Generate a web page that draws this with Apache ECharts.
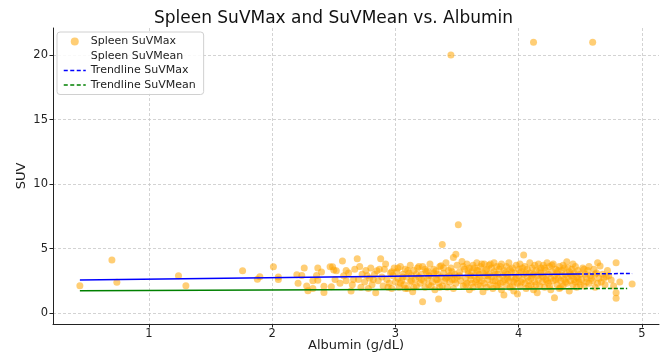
<!DOCTYPE html>
<html>
<head>
<meta charset="utf-8">
<script src="https://cdn.jsdelivr.net/npm/echarts@6/dist/echarts.min.js"></script>
<style>html,body{margin:0;padding:0;background:#fff}#c{width:667px;height:356px}</style>
</head>
<body>
<div id="c"></div>
<script>
const titleText = 'Spleen SuVMax and SuVMean vs. Albumin';
const xTicks = [1, 2, 3, 4, 5];
const yTicks = [0, 5, 10, 15, 20];

// Spleen SuVMax: [Albumin, SUV]
const spleenSuvMax = [
[0.44,2.12],[0.70,4.11],[0.74,2.38],[1.24,2.89],[1.30,2.12],[1.76,3.28],[1.88,2.61],[1.90,2.81],[2.01,3.59],[2.05,2.80],[2.05,2.60],
[2.20,2.97],[2.24,2.92],[2.21,2.30],[2.26,3.49],[2.28,2.09],[2.29,1.73],[2.33,1.91],[2.33,2.50],[2.37,3.49],[2.40,3.18],[2.36,2.92],
[2.37,2.55],[2.42,2.07],[2.42,1.60],[2.48,2.04],[2.49,3.59],[2.52,3.28],[2.51,2.60],[2.47,3.59],[2.50,3.33],
[2.55,2.3],[2.57,4.03],[2.58,2.9],[2.60,2.5],[2.62,3.1],[2.64,1.7],[2.65,2.2],[2.67,3.4],[2.69,4.2],[2.70,2.6],[2.72,2.0],[2.73,3.0],
[2.75,2.4],[2.76,3.3],[2.78,1.9],[2.79,2.7],[2.80,3.5],[2.81,2.2],[2.83,3.0],[2.84,1.57],[2.85,3.28],[2.86,2.5],[2.88,4.2],[2.89,2.8],
[2.90,2.1],[2.91,3.4],[2.92,3.8],[2.93,2.6],[2.95,2.3],[2.96,3.1],[2.97,1.9],[2.98,2.9],[2.99,3.5],[3.00,2.4],
[2.60,3.3],[2.66,2.6],[2.71,3.6],[2.77,2.9],[2.82,2.6],[2.87,3.4],[2.94,2.0],[2.97,3.2],
[3.01,3.2],[3.02,2.7],[3.03,2.0],[3.04,3.6],[3.05,2.5],[3.06,3.0],[3.07,2.2],[3.08,3.4],[3.09,2.8],[3.10,1.9],[3.11,3.1],[3.12,3.7],
[3.12,2.4],[3.13,2.9],[3.14,1.65],[3.15,3.3],[3.16,2.6],[3.17,2.1],[3.18,3.5],[3.19,2.8],[3.20,2.3],[3.21,3.0],[3.22,0.88],[3.22,3.6],
[3.23,2.5],[3.24,2.0],[3.25,3.2],[3.26,2.7],[3.26,3.28],[3.27,2.2],[3.28,3.8],[3.29,2.9],[3.30,2.4],[3.31,3.4],[3.32,1.8],[3.33,3.28],
[3.33,2.6],[3.34,3.0],[3.35,1.08],[3.35,2.3],[3.36,3.6],[3.37,3.67],[3.37,2.8],[3.38,5.32],[3.38,2.1],[3.39,3.1],[3.40,2.5],[3.41,3.9],
[3.41,2.7],[3.42,2.0],[3.43,3.3],[3.44,2.9],[3.44,2.4],[3.45,20.0],[3.45,3.5],[3.46,2.6],[3.47,4.3],[3.47,1.9],[3.48,3.0],[3.49,4.55],
[3.49,2.3],[3.50,3.7],[3.50,2.8],[3.51,6.85],[3.52,3.2],[3.53,2.5],[3.54,4.0],
[3.02,3.5],[3.04,2.3],[3.06,2.8],[3.08,1.9],[3.10,3.3],[3.13,2.5],[3.15,2.0],[3.17,3.0],[3.19,3.6],[3.21,2.6],[3.24,3.4],[3.27,2.9],
[3.29,2.1],[3.31,3.1],[3.34,2.6],[3.36,2.0],[3.39,3.5],[3.42,2.8],[3.46,3.2],[3.48,2.6],
[3.55,2.1],[3.56,3.4],[3.57,2.7],[3.58,3.8],[3.58,2.3],[3.59,3.0],[3.60,1.8],[3.60,3.5],[3.61,2.6],[3.62,3.2],[3.63,2.0],[3.63,3.7],
[3.64,2.9],[3.65,2.4],[3.66,3.3],[3.66,3.9],[3.67,2.2],[3.68,3.0],[3.68,2.7],[3.69,3.6],[3.70,2.5],[3.71,1.65],[3.71,3.1],[3.72,3.8],
[3.72,2.3],[3.73,2.9],[3.74,3.4],[3.74,2.0],[3.75,2.6],[3.76,3.7],[3.76,3.0],[3.77,2.2],[3.78,3.5],[3.78,2.8],[3.79,1.9],[3.80,3.2],
[3.80,3.9],[3.81,2.5],[3.82,3.6],[3.82,2.1],[3.83,3.0],[3.84,2.7],[3.84,3.4],[3.85,2.3],[3.86,3.8],[3.86,1.8],[3.87,2.9],[3.88,1.4],
[3.88,3.3],[3.89,2.6],[3.90,3.6],[3.90,2.2],[3.91,3.0],[3.92,2.5],[3.92,3.9],[3.93,2.0],[3.94,3.2],[3.94,2.8],[3.95,3.5],[3.96,2.4],
[3.96,1.7],[3.97,3.1],[3.98,3.7],[3.98,2.7],[3.99,1.47],[3.99,2.3],[4.00,3.4],
[3.52,2.9],[3.55,3.6],[3.57,2.2],[3.59,3.3],[3.61,2.9],[3.62,2.3],[3.64,3.5],[3.66,2.6],[3.67,3.3],[3.69,2.1],[3.70,3.8],[3.73,3.3],
[3.75,2.9],[3.77,3.8],[3.79,2.5],[3.81,3.0],[3.83,2.2],[3.85,3.6],[3.87,2.4],[3.89,3.1],[3.91,2.7],[3.93,3.4],[3.95,2.1],[3.97,2.6],
[4.00,2.9],[4.01,3.8],[4.01,2.1],[4.02,3.2],[4.03,2.6],[4.04,4.5],[4.04,3.0],[4.05,2.3],[4.05,3.6],[4.06,1.9],[4.07,2.8],[4.07,3.4],
[4.08,2.5],[4.09,3.9],[4.09,3.1],[4.10,2.2],[4.10,2.7],[4.11,3.5],[4.12,21.0],[4.12,1.8],[4.12,3.0],[4.13,3.7],[4.13,2.4],[4.14,3.3],
[4.15,1.57],[4.15,2.9],[4.16,3.8],[4.16,2.6],[4.17,2.1],[4.18,3.5],[4.18,3.1],[4.19,2.4],[4.20,3.7],[4.20,2.8],[4.21,2.0],[4.22,3.3],
[4.22,2.6],[4.23,3.9],[4.24,2.3],[4.24,3.0],[4.25,3.6],[4.26,1.8],[4.26,2.7],[4.27,3.2],[4.28,2.5],[4.28,3.8],[4.29,1.19],[4.29,2.9],
[4.30,3.4],[4.31,2.2],[4.31,3.1],[4.32,2.7],[4.33,3.6],[4.33,1.9],[4.34,2.5],[4.35,3.3],[4.35,2.9],[4.36,2.1],[4.37,3.5],[4.37,2.6],
[4.38,3.0],[4.39,3.98],[4.39,2.3],[4.40,2.8],[4.41,3.2],[4.41,1.7],[4.42,2.5],[4.43,3.4],[4.43,2.9],[4.44,2.2],[4.45,3.1],[4.45,2.6],
[4.46,3.6],[4.47,2.0],[4.47,2.8],[4.48,3.3],[4.49,2.4],[4.50,3.0],
[4.02,2.4],[4.03,3.5],[4.06,3.1],[4.08,2.1],[4.11,2.9],[4.14,2.2],[4.17,3.3],[4.19,2.9],[4.21,3.5],[4.23,2.5],[4.25,2.1],[4.27,3.7],
[4.30,2.6],[4.32,3.3],[4.34,2.0],[4.36,3.7],[4.38,2.4],[4.40,3.5],[4.42,3.0],[4.44,3.8],[4.46,2.4],[4.48,2.7],
[4.51,2.6],[4.52,3.5],[4.53,2.1],[4.54,3.0],[4.55,2.7],[4.56,3.3],[4.57,2.3],[4.58,2.9],[4.60,21.0],[4.60,2.5],[4.61,3.4],[4.62,2.0],
[4.63,3.1],[4.64,3.9],[4.65,2.7],[4.66,3.64],[4.67,2.4],[4.68,3.0],[4.70,2.2],[4.71,2.81],[4.72,3.3],[4.75,2.56],[4.77,2.1],[4.79,3.9],
[4.79,1.57],[4.79,1.14],[4.82,2.4],[4.92,2.25],
[4.50,2.2],[4.53,3.4],[4.55,2.4],[4.57,3.6],[4.59,2.7],[4.62,3.0],[4.64,2.3],[4.69,2.7],[4.73,2.9]
];
// Spleen SuVMean markers are not visible in the reference
const spleenSuvMean = [];

// Trendlines: solid part then dashed tail
const trendMaxSolid = [[0.44, 2.56], [4.48, 3.02]];
const trendMaxDashed = [[4.48, 3.02], [4.92, 3.07]];
const trendMeanSolid = [[0.44, 1.73], [4.48, 1.89]];
const trendMeanDashed = [[4.48, 1.89], [4.88, 1.91]];

const FONT = 'DejaVu Sans';
const chart = echarts.init(document.getElementById('c'), null, {renderer: 'canvas'});
const gridLine = {show: true, lineStyle: {color: '#c8c8c8', width: 0.8, type: [3, 2]}};
const noSym = {color: 'rgba(0,0,0,0)', borderWidth: 0, opacity: 0};
chart.setOption({
  animation: false,
  backgroundColor: '#fff',
  title: {
    text: titleText, left: 'center', top: 5,
    textStyle: {fontFamily: FONT, fontSize: 17, fontWeight: 'normal', color: '#111'}
  },
  grid: {left: 53, right: 8, top: 28, bottom: 32, containLabel: false, outerBoundsMode: 'none'},
  legend: {
    orient: 'vertical', left: 57, top: 32,
    padding: [4, 8, 4, 6], itemGap: 3.5, itemWidth: 22, itemHeight: 8,
    borderColor: '#d0d0d0', borderWidth: 1, borderRadius: 3,
    backgroundColor: 'rgba(255,255,255,0.85)',
    textStyle: {fontFamily: FONT, fontSize: 11, color: '#222'},
    data: [
      {name: 'Spleen SuVMax', icon: 'circle'},
      {name: 'Spleen SuVMean', icon: 'circle', itemStyle: {color: 'rgba(0,0,0,0)'}},
      {name: 'Trendline SuVMax', itemStyle: noSym, lineStyle: {type: [4, 2.5], width: 1.5, color: '#0000ff'}},
      {name: 'Trendline SuVMean', itemStyle: noSym, lineStyle: {type: [4, 2.5], width: 1.5, color: '#008000'}}
    ]
  },
  xAxis: {
    type: 'value', min: 0.222, max: 5.138,
    name: 'Albumin (g/dL)', nameLocation: 'middle', nameGap: 15, nameMoveOverlap: false,
    nameTextStyle: {fontFamily: FONT, fontSize: 13, color: '#222'},
    axisLine: {show: true, onZero: false, lineStyle: {color: '#222', width: 1}},
    axisTick: {show: true, length: 3.5, customValues: xTicks, lineStyle: {color: '#222'}},
    axisLabel: {customValues: xTicks, fontFamily: FONT, fontSize: 11.5, color: '#222', margin: 4},
    splitLine: gridLine
  },
  yAxis: {
    type: 'value', min: -0.85, max: 22.1,
    name: 'SUV', nameLocation: 'middle', nameGap: 25, nameRotate: 90, nameMoveOverlap: false,
    nameTextStyle: {fontFamily: FONT, fontSize: 13, color: '#222'},
    axisLine: {show: true, onZero: false, lineStyle: {color: '#222', width: 1}},
    axisTick: {show: true, length: 3.5, customValues: yTicks, lineStyle: {color: '#222'}},
    axisLabel: {customValues: yTicks, fontFamily: FONT, fontSize: 11.5, color: '#222', margin: 5},
    splitLine: gridLine
  },
  series: [
    {
      name: 'Spleen SuVMax', type: 'scatter', data: spleenSuvMax, symbolSize: 7, z: 2,
      itemStyle: {color: 'rgba(255,165,0,0.68)'}
    },
    {
      name: 'Spleen SuVMean', type: 'scatter', data: spleenSuvMean, symbolSize: 7, z: 2,
      itemStyle: {color: 'rgba(0,0,0,0)'}
    },
    {
      name: 'Trendline SuVMax', type: 'line', data: trendMaxSolid, symbol: 'none', z: 3,
      lineStyle: {color: '#0000ff', width: 1.5, type: 'solid'}, itemStyle: {color: '#0000ff'}
    },
    {
      name: 'Trendline SuVMax', type: 'line', data: trendMaxDashed, symbol: 'none', z: 3,
      lineStyle: {color: '#0000ff', width: 1.5, type: [4, 2]}, itemStyle: {color: '#0000ff'}
    },
    {
      name: 'Trendline SuVMean', type: 'line', data: trendMeanSolid, symbol: 'none', z: 3,
      lineStyle: {color: '#008000', width: 1.5, type: 'solid'}, itemStyle: {color: '#008000'}
    },
    {
      name: 'Trendline SuVMean', type: 'line', data: trendMeanDashed, symbol: 'none', z: 3,
      lineStyle: {color: '#008000', width: 1.5, type: [4, 2]}, itemStyle: {color: '#008000'}
    }
  ]
});
</script>
</body>
</html>
